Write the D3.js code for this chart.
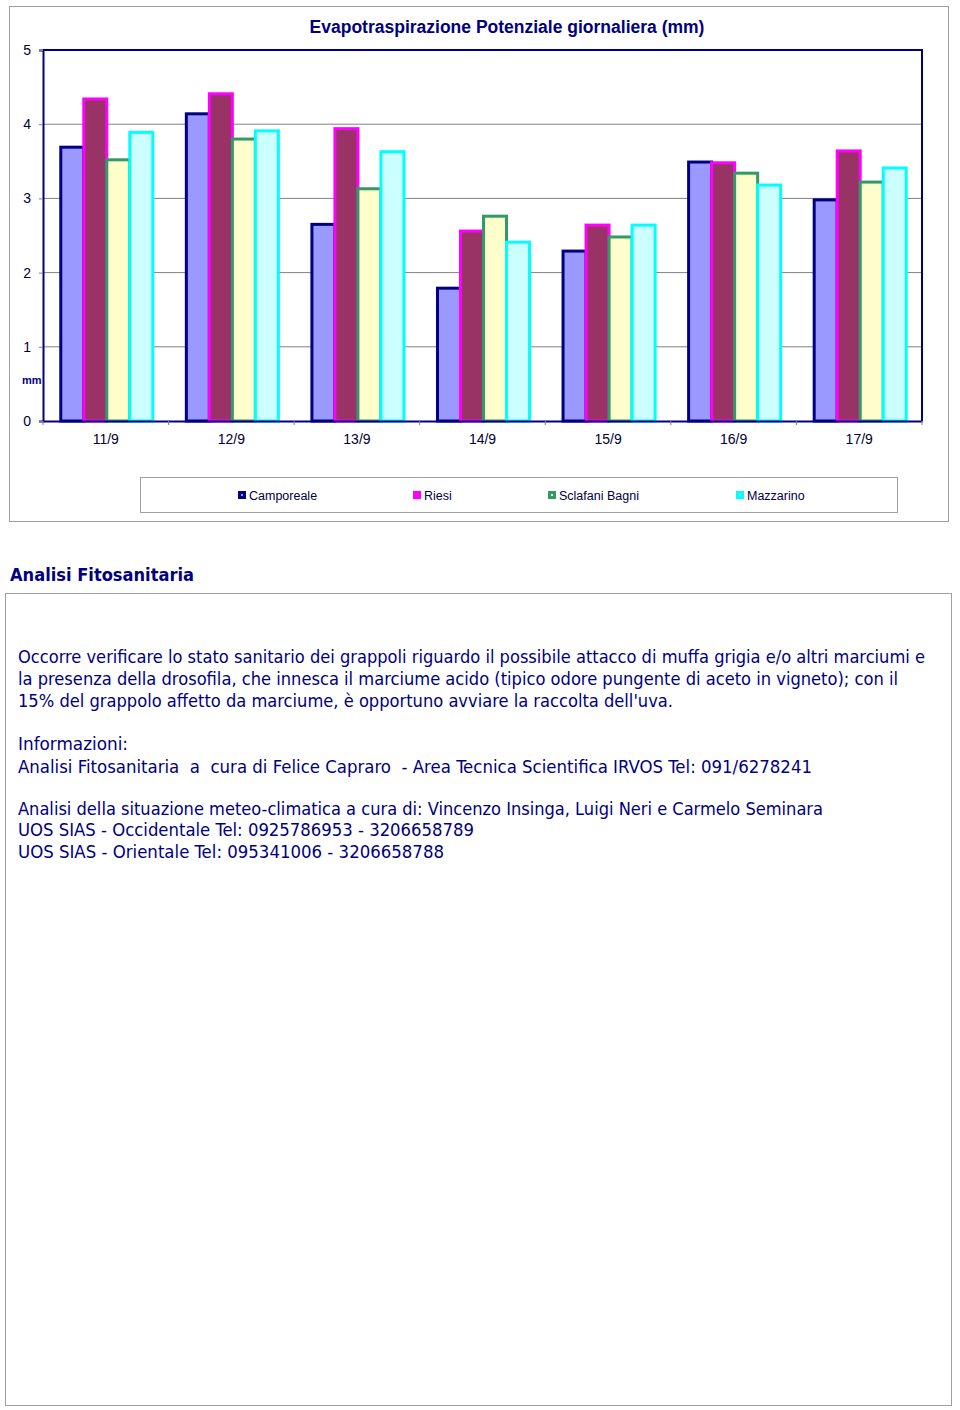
<!DOCTYPE html>
<html><head><meta charset="utf-8">
<script src="https://cdn.jsdelivr.net/npm/d3@7"></script>
<style>body{margin:0;background:#fff}svg{display:block}</style>
</head><body>
<script>
const categories = ["11/9","12/9","13/9","14/9","15/9","16/9","17/9"];
const seriesNames = ["Camporeale","Riesi","Sclafani Bagni","Mazzarino"];
const camporeale = [3.69,4.14,2.65,1.79,2.29,3.49,2.98];
const riesi      = [4.34,4.41,3.94,2.56,2.64,3.48,3.64];
const sclafani   = [3.52,3.80,3.13,2.76,2.48,3.34,3.22];
const mazzarino  = [3.89,3.91,3.63,2.41,2.64,3.18,3.41];
const yTicks = [0,1,2,3,4,5];
const strokes = ["#000080","#FF00FF","#339966","#00FFFF"];
const fills   = ["#9999FF","#993366","#FFFFCC","#CCFFFF"];
const textLines = [
 {t:"Occorre verificare lo stato sanitario dei grappoli riguardo il possibile attacco di muffa grigia e/o altri marciumi e", y:663, w:907},
 {t:"la presenza della drosofila, che innesca il marciume acido (tipico odore pungente di aceto in vigneto); con il", y:685, w:880},
 {t:"15% del grappolo affetto da marciume, è opportuno avviare la raccolta dell'uva.", y:707, w:655},
 {t:"Informazioni:", y:750, w:110},
 {t:"Analisi Fitosanitaria  a  cura di Felice Capraro  - Area Tecnica Scientifica IRVOS Tel: 091/6278241", y:773, w:794},
 {t:"Analisi della situazione meteo-climatica a cura di: Vincenzo Insinga, Luigi Neri e Carmelo Seminara", y:815, w:805},
 {t:"UOS SIAS - Occidentale Tel: 0925786953 - 3206658789", y:836, w:456},
 {t:"UOS SIAS - Orientale Tel: 095341006 - 3206658788", y:858, w:426}
];

const values = [camporeale, riesi, sclafani, mazzarino];
const svg = d3.select("body").append("svg").attr("width",960).attr("height",1410);

// outer chart border
svg.append("rect").attr("x",9.5).attr("y",6.5).attr("width",939).attr("height",515)
  .attr("fill","#fff").attr("stroke","#a0a0a0").attr("stroke-width",1);

const L=43,R=922,T=50,B=421;
const x = d3.scaleBand().domain(categories).range([L,R]).paddingInner(0.267).paddingOuter(0.1335);
const xs = d3.scaleBand().domain(seriesNames).range([0,x.bandwidth()]);
const y = d3.scaleLinear().domain([0,5]).range([B,T]);

// gridlines
svg.append("g").selectAll("line").data(yTicks.filter(d=>d>0&&d<5)).join("line")
  .attr("x1",L).attr("x2",R).attr("y1",d=>y(d)).attr("y2",d=>y(d))
  .attr("stroke","#808080").attr("stroke-width",1);

// plot border top/right
svg.append("path").attr("d",`M${L},${T}H${R}V${B}`).attr("fill","none")
  .attr("stroke","#000080").attr("stroke-width",2);

// bars
seriesNames.forEach((s,i)=>{
  svg.append("g").selectAll("rect").data(categories).join("rect")
    .attr("x",c=>x(c)+xs(s)+1).attr("width",xs.bandwidth())
    .attr("y",(c,j)=>y(values[i][j])).attr("height",(c,j)=>B-y(values[i][j]))
    .attr("fill",fills[i]).attr("stroke",strokes[i]).attr("stroke-width",3);
});

// y axis
const yAxis = d3.axisLeft(y).tickValues(yTicks).tickSize(4).tickPadding(8).tickFormat(d3.format("d"));
const ya = svg.append("g").attr("transform",`translate(${L},0)`).call(yAxis);
ya.attr("font-size",null);
ya.select(".domain").attr("stroke","#000080").attr("stroke-width",2);
ya.selectAll(".tick line").attr("stroke","#808080");
ya.selectAll("text").attr("font-family","Liberation Sans, Arial").attr("font-size",14).attr("fill","#000033");

// x axis
const xa = svg.append("g").attr("transform",`translate(0,${B})`)
  .call(d3.axisBottom(x).tickSize(0).tickPadding(13));
xa.attr("font-size",null);
xa.select(".domain").attr("stroke","#000080").attr("stroke-width",2);
xa.selectAll("text").attr("font-family","Liberation Sans, Arial").attr("font-size",14).attr("fill","#000033");
const step = x.step();
svg.append("g").selectAll("line").data(d3.range(categories.length+1)).join("line")
  .attr("x1",d=>L+d*step).attr("x2",d=>L+d*step).attr("y1",B).attr("y2",B+4)
  .attr("stroke","#808080");

// mm label
svg.append("text").attr("x",22).attr("y",384).text("mm")
  .attr("font-family","Liberation Sans, Arial").attr("font-size",11).attr("font-weight","bold").attr("fill","#000080");

// title
svg.append("text").attr("x",507).attr("y",33).attr("text-anchor","middle")
  .text("Evapotraspirazione Potenziale giornaliera (mm)")
  .attr("font-family","Liberation Sans, Arial").attr("font-size",17.5).attr("font-weight","bold").attr("fill","#000080");

// legend
svg.append("rect").attr("x",140.5).attr("y",477.5).attr("width",757).attr("height",35)
  .attr("fill","#fff").attr("stroke","#a0a0a0");
const legX = [238,413,548,736];
seriesNames.forEach((s,i)=>{
  const g = svg.append("g").attr("transform",`translate(${legX[i]},491)`);
  g.append("rect").attr("width",8).attr("height",8).attr("fill",strokes[i]);
  g.append("rect").attr("x",3).attr("y",3).attr("width",2).attr("height",2).attr("fill",fills[i]).attr("opacity",i===1?0:1);
  g.append("text").attr("x",11).attr("y",8.5).text(s)
    .attr("font-family","Liberation Sans, Arial").attr("font-size",12.5).attr("fill","#000040");
});

// text section
svg.append("text").attr("x",10).attr("y",581).text("Analisi Fitosanitaria")
  .attr("font-family","DejaVu Sans Condensed, DejaVu Sans").attr("font-size",18).attr("font-weight","bold")
  .attr("fill","#000080").attr("textLength",184).attr("lengthAdjust","spacingAndGlyphs");
svg.append("rect").attr("x",5.5).attr("y",593.5).attr("width",946).attr("height",812)
  .attr("fill","none").attr("stroke","#a0a0a0");
svg.append("g").selectAll("text").data(textLines).join("text")
  .attr("x",18).attr("y",d=>d.y).text(d=>d.t)
  .attr("font-family","DejaVu Sans Condensed, DejaVu Sans").attr("font-size",17).attr("fill","#000080")
  .attr("textLength",d=>d.w).attr("lengthAdjust","spacingAndGlyphs")
  .style("white-space","pre");
</script>
</body></html>
